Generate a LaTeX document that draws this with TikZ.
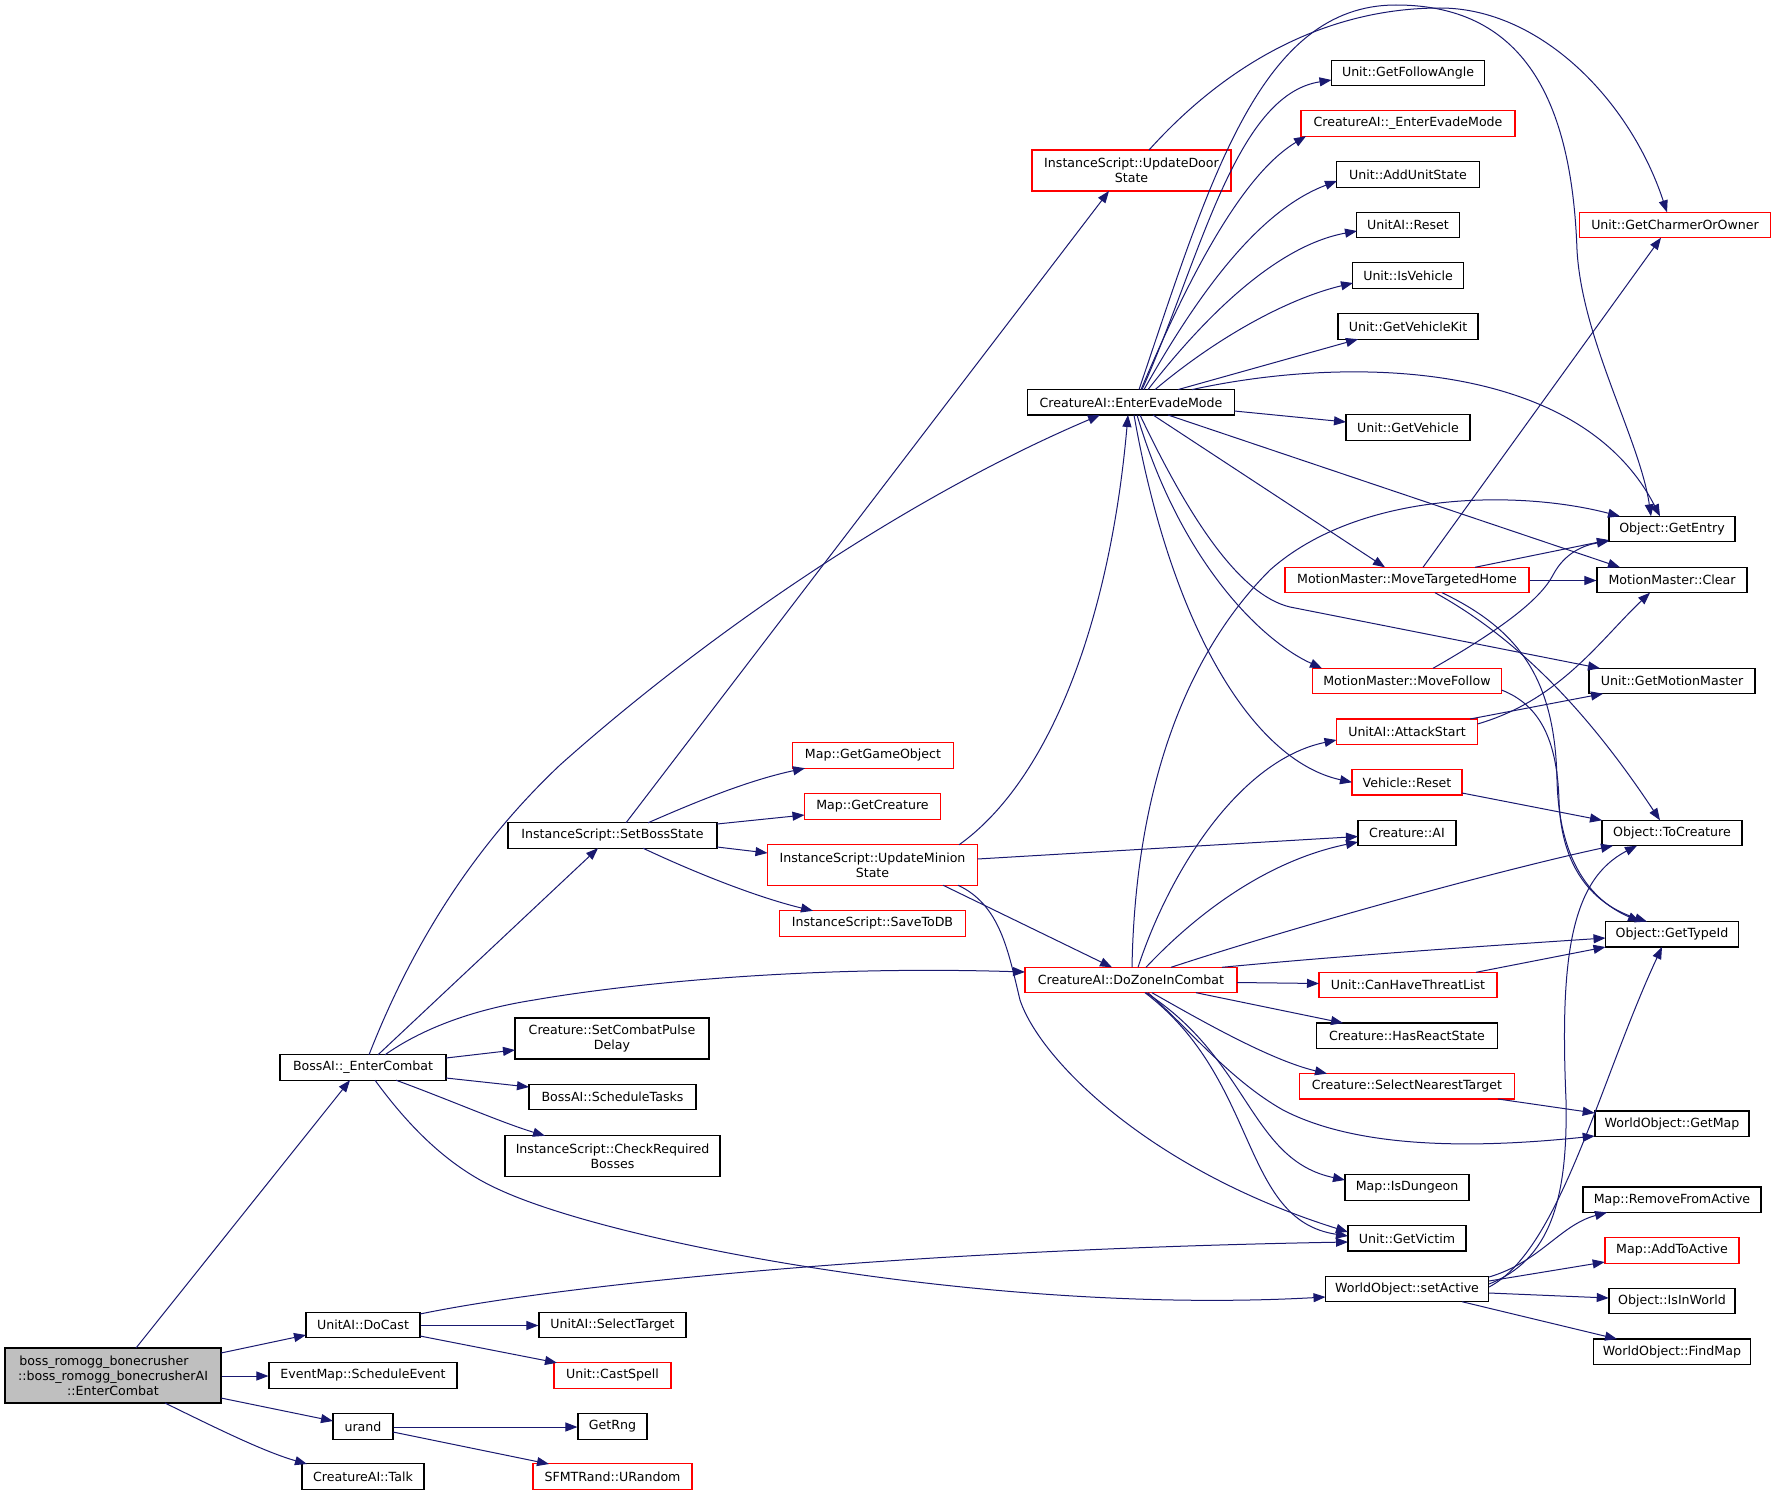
\documentclass[tikz,border=0pt]{standalone}
\usepackage{fontspec}
\setmainfont{DejaVu Sans}
\usetikzlibrary{arrows.meta,calc}
\definecolor{edgeblue}{HTML}{191970}
\definecolor{rootgray}{HTML}{BFBFBF}
\begin{document}
\begin{tikzpicture}[x=1pt,y=-1pt,
  nbox/.style={draw=black, line width=1.1pt, inner sep=0pt, align=center, minimum height=25.4pt, font=\fontsize{12.6}{14.8}\selectfont},
  rbox/.style={nbox, draw=red},
  edg/.style={draw=edgeblue, line width=1pt, -{Triangle[length=12pt,width=9pt]}}]
\useasboundingbox[fill=white] (0,0) rectangle (1775,1496);
% column 0
\node[nbox, fill=rootgray, minimum width=216pt, minimum height=55pt] (root) at (113,1375.5) {boss\_romogg\_bonecrusher\hspace*{18pt}\\::boss\_romogg\_bonecrusherAI\\::EnterCombat};
% column 1
\node[nbox, minimum width=166pt] (boss) at (363,1067.5) {BossAI::\_EnterCombat};
\node[nbox, minimum width=114pt] (docast) at (363,1325) {UnitAI::DoCast};
\node[nbox, minimum width=188pt] (sched) at (363,1375.5) {EventMap::ScheduleEvent};
\node[nbox, minimum width=60pt] (urand) at (363,1426.5) {urand};
\node[nbox, minimum width=122pt] (talk) at (363,1476.5) {CreatureAI::Talk};
% column 2
\node[nbox, minimum width=147pt] (seltgt) at (612.5,1325) {UnitAI::SelectTarget};
\node[rbox, minimum width=117pt] (cast) at (612.5,1375.5) {Unit::CastSpell};
\node[nbox, minimum width=69pt] (getrng) at (612.5,1426.5) {GetRng};
\node[rbox, minimum width=159pt] (urandom) at (612.5,1476.5) {SFMTRand::URandom};
\node[nbox, minimum width=194pt, minimum height=41pt] (pulse) at (612,1038.5) {Creature::SetCombatPulse\\Delay};
\node[nbox, minimum width=167pt] (tasks) at (612.5,1097) {BossAI::ScheduleTasks};
\node[nbox, minimum width=215pt, minimum height=40.5pt] (checkreq) at (612.5,1156) {InstanceScript::CheckRequired\\Bosses};
\node[nbox, minimum width=209pt] (setboss) at (612.5,835.5) {InstanceScript::SetBossState};
% column 3
\node[rbox, minimum width=160.5pt] (getgo) at (873,755.5) {Map::GetGameObject};
\node[rbox, minimum width=136pt] (getcre) at (872.5,806.5) {Map::GetCreature};
\node[rbox, minimum width=210pt, minimum height=40.5pt] (ums) at (872.5,865) {InstanceScript::UpdateMinion\\State};
\node[rbox, minimum width=186pt] (savedb) at (872.5,923.5) {InstanceScript::SaveToDB};
% column 4
\node[rbox, minimum width=199pt, minimum height=41pt] (uds) at (1131.5,170.5) {InstanceScript::UpdateDoor\\State};
\node[nbox, minimum width=206.5pt] (eem) at (1131,402.3) {CreatureAI::EnterEvadeMode};
\node[rbox, minimum width=212pt] (dozone) at (1131,980) {CreatureAI::DoZoneInCombat};
% column 5
\node[nbox, minimum width=153pt] (followang) at (1408,73) {Unit::GetFollowAngle};
\node[rbox, minimum width=214pt] (enterevade) at (1408,123.5) {CreatureAI::\_EnterEvadeMode};
\node[nbox, minimum width=143pt] (addstate) at (1408,174.5) {Unit::AddUnitState};
\node[nbox, minimum width=103pt] (aireset) at (1408,225) {UnitAI::Reset};
\node[nbox, minimum width=111pt] (isveh) at (1408,275.5) {Unit::IsVehicle};
\node[nbox, minimum width=140pt] (vehkit) at (1408,326.5) {Unit::GetVehicleKit};
\node[nbox, minimum width=124pt] (getveh) at (1408,427.5) {Unit::GetVehicle};
\node[rbox, minimum width=244pt] (mth) at (1407,580) {MotionMaster::MoveTargetedHome};
\node[rbox, minimum width=189pt] (mfollow) at (1407,681) {MotionMaster::MoveFollow};
\node[rbox, minimum width=141pt] (attack) at (1407,731.7) {UnitAI::AttackStart};
\node[rbox, minimum width=110pt] (vreset) at (1407,782.3) {Vehicle::Reset};
\node[nbox, minimum width=98pt] (creai) at (1407,833.2) {Creature::AI};
\node[rbox, minimum width=178pt] (canthreat) at (1408,985) {Unit::CanHaveThreatList};
\node[nbox, minimum width=181pt] (hasreact) at (1407,1035.7) {Creature::HasReactState};
\node[rbox, minimum width=215pt] (nearest) at (1407,1086.3) {Creature::SelectNearestTarget};
\node[nbox, minimum width=124pt] (isdungeon) at (1407,1187.5) {Map::IsDungeon};
\node[nbox, minimum width=118pt] (victim) at (1407,1238.3) {Unit::GetVictim};
\node[nbox, minimum width=163pt] (setactive) at (1407,1289) {WorldObject::setActive};
% column 6
\node[rbox, minimum width=191.6pt] (charmer) at (1675,225) {Unit::GetCharmerOrOwner};
\node[nbox, minimum width=126pt] (entry) at (1672,529) {Object::GetEntry};
\node[nbox, minimum width=150pt] (clear) at (1672,580) {MotionMaster::Clear};
\node[nbox, minimum width=166pt] (motionm) at (1672,681) {Unit::GetMotionMaster};
\node[nbox, minimum width=140pt] (tocre) at (1672,833) {Object::ToCreature};
\node[nbox, minimum width=133pt] (typeid) at (1672,934.3) {Object::GetTypeId};
\node[nbox, minimum width=154pt] (getmap) at (1672,1123.7) {WorldObject::GetMap};
\node[nbox, minimum width=178pt] (remact) at (1672,1199.7) {Map::RemoveFromActive};
\node[rbox, minimum width=134pt] (addact) at (1672,1250.5) {Map::AddToActive};
\node[nbox, minimum width=126pt] (inworld) at (1672,1301) {Object::IsInWorld};
\node[nbox, minimum width=157pt] (findmap) at (1672,1351.7) {WorldObject::FindMap};

% ---- edges from root
\draw[edg] ($(root)+(23,-27.5)$) -- ($(boss)+(-13,12.7)$);
\draw[edg] ($(root)+(108,-22.5)$) -- ($(docast)+(-57,10)$);
\draw[edg] ($(root.east)+(0,0.5)$) -- ($(sched.west)+(0,0.5)$);
\draw[edg] ($(root)+(108,22.5)$) -- ($(urand)+(-30,-5.5)$);
\draw[edg] ($(root)+(52,27.5)$) .. controls (220,1430) and (265,1452) .. ($(talk)+(-56,-12.5)$);
% ---- docast, urand
\draw[edg] ($(docast.east)+(0,0.5)$) -- ($(seltgt.west)+(0,0.5)$);
\draw[edg] ($(docast)+(57,11)$) -- ($(cast)+(-55.5,-12.7)$);
\draw[edg] ($(docast)+(57,-11)$) .. controls (560,1285) and (900,1250) .. ($(victim)+(-59,3.7)$);
\draw[edg] ($(urand.east)+(0,0.5)$) -- ($(getrng.west)+(0,0.5)$);
\draw[edg] ($(urand)+(30,5.5)$) -- ($(urandom)+(-63.5,-12.5)$);
% ---- boss
\draw[edg] ($(boss)+(83,-9.5)$) -- ($(pulse)+(-97,11.5)$);
\draw[edg] ($(boss)+(83,10.5)$) -- ($(tasks)+(-83.5,-10)$);
\draw[edg] ($(boss)+(33,12.7)$) .. controls (450,1100) and (500,1122) .. ($(checkreq)+(-67.5,-20.2)$);
\draw[edg] ($(boss)+(15,-12.7)$) -- ($(setboss)+(-14.5,12.7)$);
\draw[edg] ($(boss)+(6,-12.7)$) .. controls (410,950) and (470,850) .. (560,765) .. controls (700,640) and (900,500) .. ($(eem)+(-31,12.7)$);
\draw[edg] ($(boss)+(22,-12.7)$) .. controls (420,1030) and (470,1010) .. (534,1000) .. controls (620,985) and (800,965) .. ($(dozone)+(-106,-8)$);
\draw[edg] ($(boss)+(12,12.7)$) .. controls (415,1135) and (455,1170) .. (500,1190) .. controls (620,1245) and (1000,1315) .. ($(setactive)+(-81.5,8)$);
% ---- setboss
\draw[edg] ($(setboss)+(35.5,-12.7)$) .. controls (700,800) and (750,780) .. ($(getgo)+(-68,12.7)$);
\draw[edg] ($(setboss)+(104.5,-11.5)$) -- ($(getcre)+(-68,8.5)$);
\draw[edg] ($(setboss)+(104.5,11.5)$) -- ($(ums)+(-105,-12)$);
\draw[edg] ($(setboss)+(30.5,12.7)$) .. controls (700,875) and (760,898) .. ($(savedb)+(-59.5,-12.7)$);
\draw[edg] ($(setboss)+(13.5,-12.7)$) -- ($(uds)+(-22.5,20.5)$);
% ---- ums
\draw[edg] ($(ums)+(86.5,-20.2)$) .. controls (1050,780) and (1110,620) .. ($(eem)+(-3,12.7)$);
\draw[edg] ($(ums)+(105,-6)$) -- ($(creai)+(-49,3.3)$);
\draw[edg] ($(ums)+(70.5,20.2)$) -- ($(dozone)+(-19,-12.7)$);
\draw[edg] ($(ums)+(85.5,20.2)$) .. controls (1000,905) and (1008,950) .. (1020,1000) .. controls (1040,1060) and (1150,1170) .. ($(victim)+(-59,-6.3)$);
% ---- eem upward
\draw[edg] ($(eem)+(11,-12.7)$) .. controls (1200,260) and (1235,95) .. ($(followang)+(-76.5,7)$);
\draw[edg] ($(eem)+(10,-12.7)$) .. controls (1200,250) and (1250,170) .. ($(enterevade)+(-102,12.7)$);
\draw[edg] ($(eem)+(13,-12.7)$) .. controls (1200,290) and (1260,210) .. ($(addstate)+(-71,6.5)$);
\draw[edg] ($(eem)+(17,-12.7)$) .. controls (1210,310) and (1280,245) .. ($(aireset)+(-51,6)$);
\draw[edg] ($(eem)+(24,-12.7)$) .. controls (1220,335) and (1290,298) .. ($(isveh)+(-55,7.5)$);
\draw[edg] ($(eem)+(47,-12.7)$) -- ($(vehkit)+(-50,12.7)$);
\draw[edg] ($(eem)+(61,-12.7)$) .. controls (1350,355) and (1580,360) .. ($(entry)+(-12,-12.7)$);
\draw[edg] ($(eem)+(8,-12.7)$) .. controls (1210,180) and (1260,5) .. (1396,5) .. controls (1530,5) and (1572,110) .. (1577,250) .. controls (1582,340) and (1640,440) .. ($(entry)+(-21,-12.7)$);
\draw[edg] ($(uds)+(17.5,-20.5)$) .. controls (1230,60) and (1330,8) .. (1440,8) .. controls (1540,8) and (1630,100) .. ($(charmer)+(-8,-12.7)$);
% ---- eem right / down
\draw[edg] ($(eem)+(103.3,8.7)$) -- ($(getveh)+(-62,-5.5)$);
\draw[edg] ($(eem)+(22,12.7)$) -- ($(mth)+(-22,-12.7)$);
\draw[edg] ($(eem)+(37,12.7)$) -- ($(clear)+(-52,-12.7)$);
\draw[edg] ($(eem)+(9,12.7)$) .. controls (1190,520) and (1240,595) .. (1290,607) -- ($(motionm)+(-72,-12.7)$);
\draw[edg] ($(eem)+(6,12.7)$) .. controls (1180,560) and (1260,640) .. ($(mfollow)+(-85,-12.7)$);
\draw[edg] ($(eem)+(3,12.7)$) .. controls (1170,620) and (1250,760) .. ($(vreset)+(-55,0)$);
% ---- column 5 to column 6
\draw[edg] ($(mth)+(16,-12.7)$) -- ($(charmer)+(-14,12.7)$);
\draw[edg] ($(mth)+(68,-12.7)$) -- ($(entry)+(-63,11)$);
\draw[edg] ($(mth.east)+(0,0.5)$) -- ($(clear.west)+(0,0.5)$);
\draw[edg] ($(mth)+(28,12.7)$) .. controls (1530,645) and (1600,730) .. ($(tocre)+(-12,-12.7)$);
\draw[edg] ($(mth)+(35,12.7)$) .. controls (1520,630) and (1555,680) .. (1557,780) .. controls (1559,860) and (1590,900) .. ($(typeid)+(-32,-12.7)$);
\draw[edg] ($(mfollow)+(94.5,9)$) .. controls (1540,705) and (1557,740) .. (1559,800) .. controls (1561,870) and (1595,905) .. ($(typeid)+(-25,-12.7)$);
\draw[edg] ($(mfollow)+(26,-12.7)$) .. controls (1500,630) and (1540,600) .. (1553,575) .. controls (1565,552) and (1585,545) .. ($(entry)+(-63,12)$);
\draw[edg] ($(attack)+(70.5,-7.7)$) .. controls (1560,700) and (1600,640) .. ($(clear)+(-22,12.7)$);
\draw[edg] ($(attack)+(63,-12.7)$) -- ($(motionm)+(-69,12.7)$);
\draw[edg] ($(vreset)+(55,10.7)$) -- ($(tocre)+(-70,-12.7)$);
\draw[edg] ($(canthreat)+(68,-12.7)$) -- ($(typeid)+(-66.5,12.7)$);
\draw[edg] ($(nearest)+(91,12.7)$) -- ($(getmap)+(-77.3,-10.7)$);
% ---- dozone
\draw[edg] ($(dozone)+(1,-12.7)$) .. controls (1135,800) and (1180,660) .. (1270,570) .. controls (1360,490) and (1520,490) .. ($(entry)+(-52,-12.7)$);
\draw[edg] ($(dozone)+(7,-12.7)$) .. controls (1170,870) and (1240,760) .. ($(attack)+(-70.5,8.3)$);
\draw[edg] ($(dozone)+(15,-12.7)$) .. controls (1200,910) and (1270,860) .. ($(creai)+(-49,8.8)$);
\draw[edg] ($(dozone)+(40,-12.7)$) .. controls (1300,925) and (1500,870) .. ($(tocre)+(-59,12.7)$);
\draw[edg] ($(dozone)+(91,-12.7)$) .. controls (1350,955) and (1500,945) .. ($(typeid)+(-66.5,3.7)$);
\draw[edg] ($(dozone)+(106,2.5)$) -- ($(canthreat)+(-89,-1.5)$);
\draw[edg] ($(dozone)+(65,12.7)$) -- ($(hasreact)+(-64,-12.7)$);
\draw[edg] ($(dozone)+(21,12.7)$) .. controls (1200,1020) and (1270,1060) .. ($(nearest)+(-80,-12.7)$);
\draw[edg] ($(dozone)+(17,12.7)$) .. controls (1190,1030) and (1230,1080) .. (1283,1110) .. controls (1360,1150) and (1480,1148) .. ($(getmap)+(-77.3,12.3)$);
\draw[edg] ($(dozone)+(15,12.7)$) .. controls (1250,1060) and (1250,1160) .. ($(isdungeon)+(-62,-7.5)$);
\draw[edg] ($(dozone)+(14,12.7)$) .. controls (1260,1080) and (1240,1220) .. ($(victim)+(-59,-2.3)$);
% ---- setactive
\draw[edg] ($(setactive)+(82,-12)$) .. controls (1540,1262) and (1560,1225) .. ($(remact)+(-65,12.7)$);
\draw[edg] ($(setactive)+(82,-8)$) -- ($(addact)+(-67.3,11.5)$);
\draw[edg] ($(setactive)+(82,4)$) -- ($(inworld)+(-63.3,-3)$);
\draw[edg] ($(setactive)+(55,12.7)$) -- ($(findmap)+(-55,-12.7)$);
\draw[edg] ($(setactive)+(82,-5)$) .. controls (1550,1260) and (1568,1200) .. (1566,1100) .. controls (1560,960) and (1570,880) .. ($(tocre)+(-35,12.7)$);
\draw[edg] ($(setactive)+(82,-2)$) .. controls (1560,1250) and (1600,1080) .. ($(typeid)+(-10,12.7)$);
\end{tikzpicture}
\end{document}
